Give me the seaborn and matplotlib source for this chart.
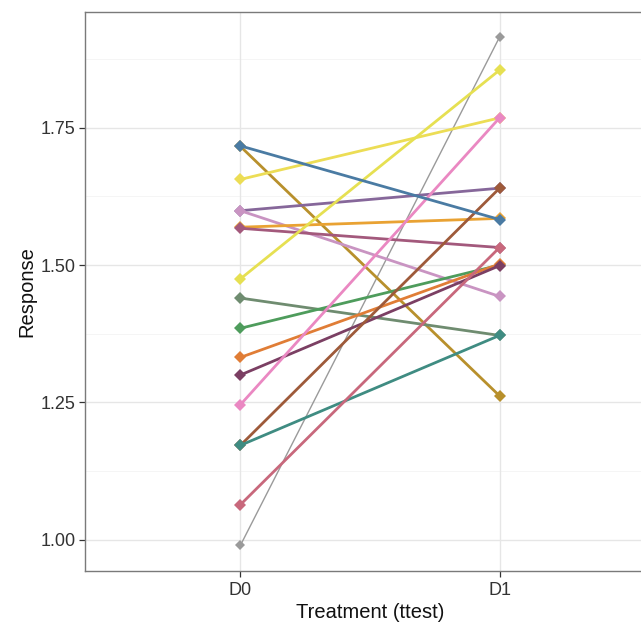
import matplotlib
matplotlib.use("Agg")
import matplotlib.pyplot as plt
from matplotlib.ticker import FixedLocator
import seaborn as sns
import pandas as pd
import numpy as np

# ---- data ----
treatments = ["D0", "D1"]
subjects = ["S01", "S02", "S03", "S04", "S05", "S06", "S07", "S08", "S09",
            "S10", "S11", "S12", "S13", "S14", "S15", "S16", "S17"]
d0_values = [0.990, 1.716, 1.656, 1.599, 1.599, 1.569, 1.567, 1.475, 1.440,
             1.385, 1.332, 1.300, 1.246, 1.172, 1.172, 1.064, 1.717]
d1_values = [1.915, 1.262, 1.768, 1.640, 1.443, 1.585, 1.532, 1.855, 1.372,
             1.500, 1.502, 1.499, 1.768, 1.640, 1.372, 1.532, 1.583]
subject_colors = ["#9A9A9A", "#B8902C", "#ECDD55", "#86679A", "#C994C2",
                  "#E9A233", "#A3597C", "#E6E052", "#6F8C70", "#4E9C5C",
                  "#E07D36", "#7B3F63", "#EA88C2", "#9E5A3A", "#3F8C82",
                  "#C8687C", "#4A7BA3"]
y_ticks = [1.00, 1.25, 1.50, 1.75]
y_minor = [1.125, 1.375, 1.625, 1.875]
x_label = "Treatment (ttest)"
y_label = "Response"

df = pd.DataFrame({
    "subject": subjects * 2,
    "treatment": [treatments[0]] * len(subjects) + [treatments[1]] * len(subjects),
    "value": d0_values + d1_values,
})
df["xpos"] = df["treatment"].map({t: i for i, t in enumerate(treatments)})

sns.set_style("white")
plt.rcParams["font.family"] = ["Liberation Sans", "DejaVu Sans"]

fig = plt.figure(figsize=(6.41, 6.26), dpi=100)
W, H = 641, 626
left_px, right_px, top_px, bottom_px = 85, 655, 11.7, 570.7
ax = fig.add_axes([left_px / W, 1 - bottom_px / H,
                   (right_px - left_px) / W, (bottom_px - top_px) / H])

# grid
for yv in y_minor:
    ax.axhline(yv, color="#F4F4F4", lw=0.6, zorder=0)
for yv in y_ticks:
    ax.axhline(yv, color="#E6E6E6", lw=1.0, zorder=0)
for xv in range(len(treatments)):
    ax.axvline(xv, color="#E6E6E6", lw=1.0, zorder=0)

palette = dict(zip(subjects, subject_colors))
grey_df = df[df["subject"] == subjects[0]]
rest_df = df[df["subject"] != subjects[0]]

sns.lineplot(data=grey_df, x="xpos", y="value", hue="subject", palette=palette,
             marker="D", markersize=5, markeredgewidth=0, linewidth=1.0,
             legend=False, sort=False, ax=ax, zorder=2)
sns.lineplot(data=rest_df, x="xpos", y="value", hue="subject", palette=palette,
             marker="D", markersize=6, markeredgewidth=0, linewidth=2.0,
             legend=False, sort=False, ax=ax, zorder=3)

vals = np.array(d0_values + d1_values)
rng = vals.max() - vals.min()
ax.set_ylim(vals.min() - 0.05 * rng, vals.max() + 0.05 * rng)
ax.set_xlim(-0.6, len(treatments) - 1 + 0.6)

ax.set_xticks(range(len(treatments)))
ax.set_xticklabels(treatments)
ax.yaxis.set_major_locator(FixedLocator(y_ticks))
ax.set_yticklabels([f"{v:.2f}" for v in y_ticks])

ax.tick_params(axis="both", which="major", length=4, width=0.9, color="#333333",
               labelcolor="#333333", labelsize=13, direction="out",
               bottom=True, left=True)
ax.tick_params(axis="x", pad=4)
ax.tick_params(axis="y", pad=3)
ax.set_xlabel(x_label, fontsize=14.5, color="#111111", labelpad=3)
ax.set_ylabel(y_label, fontsize=14.5, color="#111111", labelpad=3)

for s in ax.spines.values():
    s.set_color("#7A7A7A")
    s.set_linewidth(1.0)
    s.set_visible(True)

fig.savefig("out.png", dpi=100, facecolor="white")
